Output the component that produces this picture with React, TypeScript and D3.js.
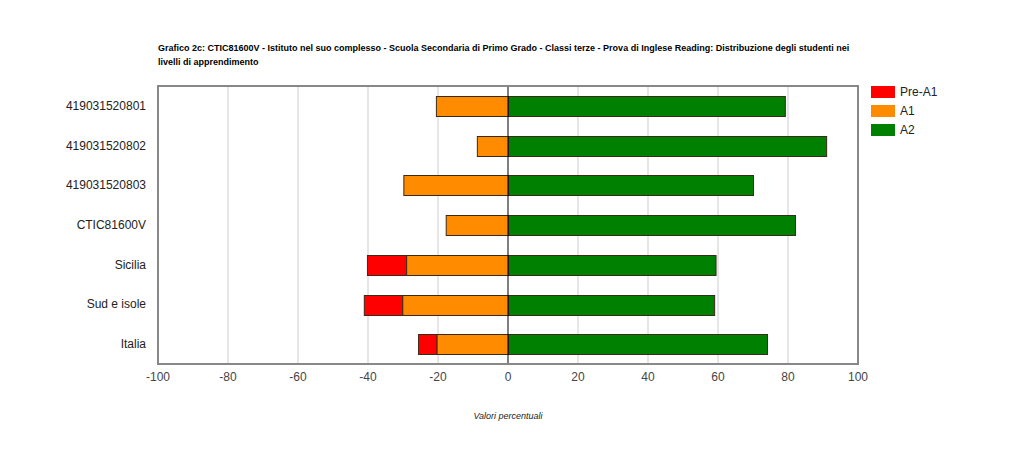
import React, { useEffect, useRef } from 'react';
import * as d3 from 'd3';

const categories = ['419031520801', '419031520802', '419031520803', 'CTIC81600V', 'Sicilia', 'Sud e isole', 'Italia'];
const preA1 = [0, 0, 0, 0, 11.2, 11.0, 5.3];
const a1 = [20.6, 8.9, 29.9, 17.8, 29.1, 30.2, 20.4];
const a2 = [79.1, 90.9, 70.0, 82.0, 59.3, 58.9, 74.0];
const xTicks = [-100, -80, -60, -40, -20, 0, 20, 40, 60, 80, 100];
const seriesNames = ['Pre-A1', 'A1', 'A2'];
const seriesColors = ['#ff0000', '#ff8c00', '#008000'];

const titleLines = [
  'Grafico 2c: CTIC81600V - Istituto nel suo complesso - Scuola Secondaria di Primo Grado - Classi terze - Prova di Inglese Reading: Distribuzione degli studenti nei',
  'livelli di apprendimento',
];

export default function App() {
  const ref = useRef<SVGSVGElement>(null);

  useEffect(() => {
    const svg = d3.select(ref.current);
    svg.selectAll('*').remove();

    const left = 158, right = 858, top = 86, bottom = 364;
    const font = 'Arial, "Liberation Sans", sans-serif';

    const x = d3.scaleLinear().domain([-100, 100]).range([left, right]);
    const y = d3.scaleBand().domain(categories).range([top, bottom]).paddingInner(0.5).paddingOuter(0.25);

    // background
    svg.append('rect').attr('width', 1016).attr('height', 450).attr('fill', '#fff');

    // title
    const title = svg.append('text')
      .attr('x', 158).attr('y', 51)
      .attr('font-family', '"Liberation Sans Narrow", Arial, sans-serif')
      .attr('font-size', 9).attr('font-weight', 'bold').attr('fill', '#000');
    titleLines.forEach((l, i) => {
      title.append('tspan').attr('x', 158).attr('dy', i === 0 ? 0 : 14).text(l);
    });

    // gridlines
    svg.append('g').selectAll('line')
      .data(xTicks.filter(t => t !== -100 && t !== 100 && t !== 0))
      .enter().append('line')
      .attr('x1', d => x(d)).attr('x2', d => x(d))
      .attr('y1', top).attr('y2', bottom)
      .attr('stroke', '#cccccc').attr('stroke-width', 1);

    // stacked bars
    const bars = svg.append('g');
    categories.forEach((c, i) => {
      const y0 = y(c) as number;
      const h = y.bandwidth();
      const segs = [
        { x0: -(a1[i] + preA1[i]), x1: -a1[i], k: 0, v: preA1[i] },
        { x0: -a1[i], x1: 0, k: 1, v: a1[i] },
        { x0: 0, x1: a2[i], k: 2, v: a2[i] },
      ];
      segs.filter(s => s.v > 0).forEach(s => {
        bars.append('rect')
          .attr('x', x(s.x0) + 0.5)
          .attr('y', Math.round(y0) + 0.5)
          .attr('width', x(s.x1) - x(s.x0))
          .attr('height', Math.round(h))
          .attr('fill', seriesColors[s.k])
          .attr('stroke', '#3a2a1a').attr('stroke-width', 1);
      });
    });

    // zero line
    svg.append('line')
      .attr('x1', x(0)).attr('x2', x(0)).attr('y1', top).attr('y2', bottom)
      .attr('stroke', '#000').attr('stroke-width', 1);

    // frame
    svg.append('rect')
      .attr('x', left).attr('y', top).attr('width', right - left).attr('height', bottom - top)
      .attr('fill', 'none').attr('stroke', '#888888').attr('stroke-width', 2);

    // x tick labels
    svg.append('g').selectAll('text')
      .data(xTicks).enter().append('text')
      .attr('x', d => x(d)).attr('y', 381)
      .attr('text-anchor', 'middle')
      .attr('font-family', font).attr('font-size', 12).attr('fill', '#444')
      .text(d => d);

    // y labels
    svg.append('g').selectAll('text')
      .data(categories).enter().append('text')
      .attr('x', 146).attr('y', d => (y(d) as number) + y.bandwidth() / 2 + 4)
      .attr('text-anchor', 'end')
      .attr('font-family', font).attr('font-size', 12).attr('fill', '#222')
      .text(d => d);

    // axis title
    svg.append('text')
      .attr('x', 508).attr('y', 419)
      .attr('text-anchor', 'middle')
      .attr('font-family', font).attr('font-size', 9).attr('font-style', 'italic').attr('fill', '#222')
      .text('Valori percentuali');

    // legend
    const lg = svg.append('g');
    seriesNames.forEach((n, i) => {
      lg.append('rect')
        .attr('x', 871).attr('y', 86 + i * 19)
        .attr('width', 24).attr('height', 12)
        .attr('fill', seriesColors[i]);
      lg.append('text')
        .attr('x', 900).attr('y', 96 + i * 19)
        .attr('font-family', font).attr('font-size', 12).attr('fill', '#222')
        .text(n);
    });
  }, []);

  return (
    <div style={{ margin: -8 }}>
      <svg ref={ref} width={1016} height={450}></svg>
    </div>
  );
}
